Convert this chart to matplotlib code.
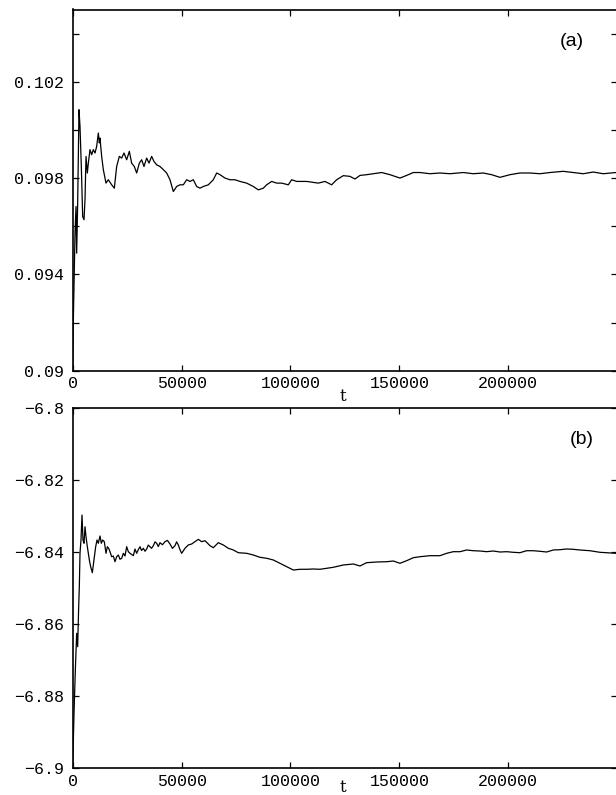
import matplotlib
matplotlib.use("Agg")
import matplotlib.pyplot as plt
from matplotlib.ticker import FixedLocator, FuncFormatter

# ---------------- data ----------------
t_a = [0, 300, 1060, 1520, 1820, 2280, 2890, 3350, 3960, 4580, 5190, 5650, 6110, 6720,
       7180, 7940, 8710, 9470, 10240, 11000, 11770, 12230, 12530, 13300, 14060, 15290,
       16360, 17890, 19110, 20190, 21410, 22480, 23550, 24780, 26000, 27070, 28290,
       29370, 30590, 31660, 32730, 33960, 35030, 36250, 37320, 38550, 40080, 41610,
       43140, 44670, 46200, 47730, 49260, 50790, 52320, 53850, 55380, 56910, 58440,
       59970, 62270, 64560, 66100, 67620, 69920, 72210, 74510, 76810, 79870, 82930,
       85230, 87520, 89050, 91350, 93640, 95940, 99000, 100530, 102830, 104360, 107420,
       110480, 112770, 115830, 118890, 121190, 124250, 127310, 129600, 131900, 134960,
       138020, 141850, 145670, 150260, 153320, 156380, 159450, 164040, 168630, 173220,
       179340, 183930, 188520, 192350, 196170, 200760, 205350, 209940, 214530, 219120,
       225240, 229830, 234420, 239020, 243610, 249430]
y_a = [0.09003, 0.09211, 0.09571, 0.09682, 0.09488, 0.09696, 0.10084, 0.10015, 0.09848,
       0.09640, 0.09627, 0.09710, 0.09890, 0.09821, 0.09862, 0.09918, 0.09897, 0.09918,
       0.09904, 0.09931, 0.09987, 0.09946, 0.09966, 0.09890, 0.09835, 0.09779, 0.09793,
       0.09772, 0.09758, 0.09848, 0.09890, 0.09883, 0.09904, 0.09876, 0.09911, 0.09862,
       0.09848, 0.09821, 0.09862, 0.09876, 0.09848, 0.09883, 0.09862, 0.09890, 0.09869,
       0.09855, 0.09848, 0.09835, 0.09821, 0.09793, 0.09744, 0.09765, 0.09772, 0.09772,
       0.09793, 0.09786, 0.09793, 0.09765, 0.09758, 0.09765, 0.09772, 0.09793, 0.09821,
       0.09814, 0.09800, 0.09793, 0.09793, 0.09786, 0.09779, 0.09765, 0.09751, 0.09758,
       0.09772, 0.09786, 0.09779, 0.09779, 0.09772, 0.09793, 0.09786, 0.09786, 0.09786,
       0.09782, 0.09779, 0.09786, 0.09772, 0.09793, 0.09810, 0.09807, 0.09796, 0.09811,
       0.09814, 0.09818, 0.09823, 0.09814, 0.09800, 0.09811, 0.09823, 0.09823, 0.09818,
       0.09821, 0.09818, 0.09823, 0.09818, 0.09821, 0.09814, 0.09803, 0.09814, 0.09821,
       0.09821, 0.09818, 0.09823, 0.09828, 0.09823, 0.09818, 0.09825, 0.09818, 0.09823]

t_b = [0, 600, 1210, 1820, 2280, 2740, 3040, 3350, 3810, 4270, 4730, 5190, 5650, 6110,
       6720, 7640, 8250, 9010, 9780, 10550, 11160, 11770, 12530, 13140, 13760, 14520,
       15290, 15900, 16510, 17120, 17890, 18650, 19420, 20190, 20950, 21720, 22480,
       23250, 24010, 24780, 25540, 26310, 27840, 28600, 29370, 30100, 30900, 31600,
       32430, 33200, 33960, 34700, 35490, 36200, 37020, 37800, 38550, 39300, 40080,
       41200, 42370, 43500, 44670, 45800, 46970, 47700, 48500, 49200, 50030, 51560,
       53090, 54620, 56150, 57680, 59210, 60740, 63040, 64560, 66860, 69150, 71450,
       73750, 76040, 79870, 82930, 85990, 89050, 92110, 95170, 98230, 101290, 104360,
       107420, 110480, 113540, 116600, 119660, 124250, 128840, 131900, 134960, 139550,
       144140, 147200, 150260, 153320, 156380, 159450, 164040, 168630, 171690, 174750,
       177810, 180870, 183930, 186990, 190050, 193110, 196170, 199230, 202290, 205350,
       208410, 211470, 214530, 217590, 220650, 223710, 226770, 229830, 232890, 237480,
       242070, 249430]
y_b = [-6.89956, -6.88475, -6.87274, -6.86256, -6.86628, -6.85519, -6.84964, -6.84038,
       -6.83669, -6.82976, -6.83669, -6.83760, -6.83300, -6.83577, -6.83855, -6.84223,
       -6.84409, -6.84576, -6.84223, -6.83855, -6.83669, -6.83760, -6.83558, -6.83760,
       -6.83669, -6.83716, -6.84038, -6.83855, -6.83899, -6.83993, -6.84132, -6.84113,
       -6.84271, -6.84132, -6.84085, -6.84204, -6.84176, -6.84038, -6.84113, -6.83855,
       -6.83993, -6.84038, -6.84104, -6.83920, -6.84038, -6.83940, -6.83855, -6.83960,
       -6.83899, -6.83980, -6.83918, -6.83810, -6.83855, -6.83900, -6.83827, -6.83720,
       -6.83760, -6.83850, -6.83744, -6.83800, -6.83716, -6.83680, -6.83780, -6.83900,
       -6.83827, -6.83720, -6.83807, -6.83930, -6.84038, -6.83899, -6.83807, -6.83780,
       -6.83716, -6.83650, -6.83716, -6.83688, -6.83827, -6.83882, -6.83744, -6.83807,
       -6.83899, -6.83946, -6.84021, -6.84038, -6.84085, -6.84149, -6.84176, -6.84223,
       -6.84315, -6.84409, -6.84501, -6.84481, -6.84481, -6.84473, -6.84481, -6.84454,
       -6.84426, -6.84362, -6.84334, -6.84390, -6.84298, -6.84279, -6.84271, -6.84251,
       -6.84315, -6.84243, -6.84160, -6.84132, -6.84104, -6.84104, -6.84038, -6.83993,
       -6.83993, -6.83946, -6.83966, -6.83974, -6.83993, -6.83974, -6.84002, -6.83993,
       -6.84010, -6.84021, -6.83966, -6.83966, -6.83982, -6.84002, -6.83946, -6.83938,
       -6.83918, -6.83927, -6.83946, -6.83966, -6.84010, -6.84038]

x_ticks = [0, 50000, 100000, 150000, 200000]
x_tick_labels = ["0", "50000", "100000", "150000", "200000"]
ya_ticks = [0.090, 0.092, 0.094, 0.096, 0.098, 0.100, 0.102, 0.104]
ya_labels = {0.090: "0.09", 0.094: "0.094", 0.098: "0.098", 0.102: "0.102"}
yb_ticks = [-6.90, -6.88, -6.86, -6.84, -6.82, -6.80]
yb_tick_labels = ["\u22126.9", "\u22126.88", "\u22126.86", "\u22126.84", "\u22126.82", "\u22126.8"]
panel_labels = ["(a)", "(b)"]
x_label = "t"

# ---------------- figure ----------------
W, H = 616, 795
fig = plt.figure(figsize=(W / 100, H / 100), dpi=100)

def px_axes(left, top, right, bottom):
    return fig.add_axes([left / W, 1 - bottom / H, (right - left) / W, (bottom - top) / H])

ax1 = px_axes(72.7, 9.5, 617.2, 370.7)
ax2 = px_axes(72.7, 407.7, 617.2, 768.3)

mono = "Liberation Mono"

for ax in (ax1, ax2):
    ax.set_xlim(0, 250000)
    ax.set_xticks(x_ticks)
    ax.set_xticklabels(x_tick_labels, fontfamily=mono, fontsize=12)
    ax.tick_params(which="both", direction="in", top=True, right=True,
                   length=4.5, width=0.9, pad=4)
    ax.tick_params(axis="y", pad=6)
    for s in ax.spines.values():
        s.set_linewidth(1.2)

ax1.plot(t_a, y_a, color="black", lw=0.9)
ax1.set_ylim(0.090, 0.105)
ax1.yaxis.set_major_locator(FixedLocator(ya_ticks))
ax1.yaxis.set_major_formatter(FuncFormatter(
    lambda v, p: next((s for k, s in ya_labels.items() if abs(k - v) < 1e-6), "")))
for lab in ax1.get_yticklabels():
    lab.set_fontfamily(mono)
    lab.set_fontsize(12)

ax2.plot(t_b, y_b, color="black", lw=0.9)
ax2.set_ylim(-6.90, -6.80)
ax2.set_yticks(yb_ticks)
ax2.set_yticklabels(yb_tick_labels, fontfamily=mono, fontsize=12)

# x labels ("t") sitting just below the tick labels
ax1.text(0.497, -0.072, x_label, transform=ax1.transAxes, ha="center", va="center",
         fontsize=12, fontfamily="DejaVu Serif")
ax2.text(0.497, -0.053, x_label, transform=ax2.transAxes, ha="center", va="center",
         fontsize=12, fontfamily="DejaVu Serif")

# panel labels
ax1.text((572 - 72.7) / (617.2 - 72.7), 1 - (41 - 9.5) / 361.2, panel_labels[0],
         transform=ax1.transAxes, ha="center", va="center", fontsize=14,
         fontfamily="Liberation Sans")
ax2.text((582 - 72.7) / (617.2 - 72.7), 1 - (440 - 407.7) / 360.6, panel_labels[1],
         transform=ax2.transAxes, ha="center", va="center", fontsize=14,
         fontfamily="Liberation Sans")

fig.savefig("out.png", dpi=100)
